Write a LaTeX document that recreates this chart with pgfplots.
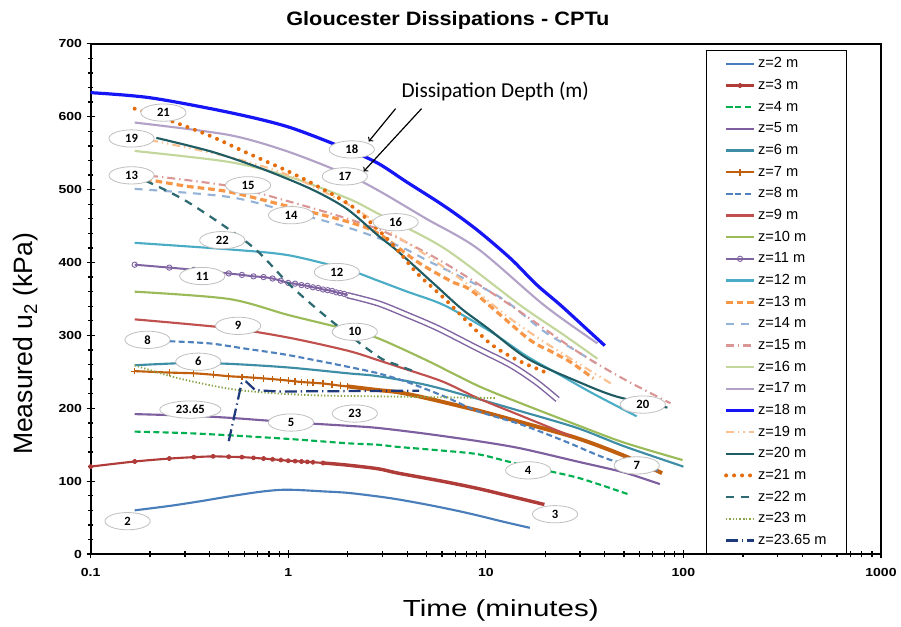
\documentclass[border=0pt]{standalone}
\usepackage{pgfplots}
\pgfplotsset{compat=1.18}
\usepackage{fontspec}
\setmainfont{Liberation Sans}
\newfontfamily\tickfont[FakeStretch=1.2]{Liberation Sans}
\newfontfamily\titlefont[FakeStretch=1.12]{Liberation Sans}
\newfontfamily\xlabfont[FakeStretch=1.27]{Liberation Sans}
\newfontfamily\calib{Carlito}
\usetikzlibrary{shapes.geometric}
\definecolor{c2}{HTML}{4A7EBB}
\definecolor{c3}{HTML}{B03C3A}
\definecolor{c4}{HTML}{00B050}
\definecolor{c5}{HTML}{7D5FA0}
\definecolor{c6}{HTML}{3C8DA5}
\definecolor{c7}{HTML}{C0600F}
\definecolor{c8}{HTML}{4F81BD}
\definecolor{c9}{HTML}{C0504D}
\definecolor{c10}{HTML}{9BBB59}
\definecolor{c11}{HTML}{8064A2}
\definecolor{c12}{HTML}{4BACC6}
\definecolor{c13}{HTML}{F79646}
\definecolor{c14}{HTML}{95B3D7}
\definecolor{c15}{HTML}{D99694}
\definecolor{c16}{HTML}{C3D69B}
\definecolor{c17}{HTML}{B3A2C7}
\definecolor{c18}{HTML}{1515F5}
\definecolor{c19}{HTML}{FAC090}
\definecolor{c20}{HTML}{1F5C63}
\definecolor{c21}{HTML}{E46C0A}
\definecolor{c22}{HTML}{2D6A72}
\definecolor{c23}{HTML}{8AA64A}
\definecolor{c2365}{HTML}{1F3A7A}
\tikzset{lbl/.style={ellipse, draw=black!25, fill=white, line width=0.6pt, minimum width=34pt, minimum height=13pt, inner sep=0pt, font=\calib\bfseries\fontsize{9.5}{10}\selectfont}}
\begin{document}
\begin{tikzpicture}
\begin{axis}[
  scale only axis, width=594.75pt, height=384pt,
  xmode=log, xmin=0.1, xmax=1000, ymin=0, ymax=700,
  xtick={0.1,1,10,100,1000}, xticklabels={0.1,1,10,100,1000},
  ytick={0,100,200,300,400,500,600,700},
  minor y tick num=4,
  xtick pos=bottom, ytick pos=left,
  tick align=center,
  axis line style={line width=1.6pt},
  every tick/.style={black, line width=1pt},
  major tick length=6pt, minor tick length=4pt,
  /pgf/number format/assume math mode=true,
  ticklabel style={font=\tickfont\bfseries\fontsize{8.8}{10}\selectfont},
  xticklabel style={yshift=-4.5pt},
  clip mode=individual,
  every axis plot/.append style={line join=round},
  legend style={at={(rel axis cs:0.778,0.988)}, anchor=north west, draw=black, line width=1pt, fill=white,
    font=\fontsize{11}{12}\selectfont, row sep=3.3pt, inner xsep=13.5pt, inner ysep=3.5pt,
    nodes={inner sep=1.5pt, text height=8pt, text depth=2pt}},
  legend cell align=left,
  legend image code/.code={\draw[mark repeat=2,mark phase=2,#1] plot coordinates {(0pt,0pt)(10.5pt,0pt)(21pt,0pt)};},
]
% z=2
\addplot[c2, line width=1.6pt, smooth] coordinates {(0.167,60)(0.25,66)(0.35,72)(0.5,79)(0.7,85)(0.9,88)(1.1,88)(1.5,86)(2,84)(2.85,79)(3.6,75)(5,68)(7,60)(9.1,53)(12,45)(16.7,36)};
\addlegendentry{z=2 m}
% z=3
\addplot[c3, line width=1.6pt, smooth, mark=*, mark size=1.2pt] coordinates {(0.1,120)(0.167,127)(0.25,131)(0.333,133)(0.417,134)(0.5,133.5)(0.583,133)(0.667,132)(0.75,131)(0.833,130)(0.917,129)(1,128)(1.083,127.5)(1.167,127)(1.25,126.5)(1.333,126)(1.5,125)};
\addlegendentry{z=3 m}
\addplot[c3, line width=2.6pt, smooth, forget plot] coordinates {(1.5,125)(2,122)(2.85,117)(3.6,111)(6,100)(9.1,90)(13,80)(19.8,68)};
% z=4
\addplot[c4, line width=1.6pt, smooth, dash pattern=on 4.5pt off 2.5pt] coordinates {(0.167,168)(0.3,166)(0.5,163)(1,158)(2,152)(2.85,150)(3.6,147)(6,142)(9.1,137)(13.4,126)(20,115)(29,105)(40,93)(54,81)};
\addlegendentry{z=4 m}
% z=5
\addplot[c5, line width=1.6pt, smooth] coordinates {(0.167,192)(0.3,190)(0.5,187)(1,181)(2,176)(2.85,173)(5,165)(9.1,155)(15,145)(29,127)(50,112)(76,96)};
\addlegendentry{z=5 m}
% z=6
\addplot[c6, line width=1.6pt, smooth] coordinates {(0.167,259)(0.3,262)(0.5,261)(1,256)(2,248)(2.85,244)(5,232)(9.1,213)(15,196)(29,173)(50,148)(100,120)};
\addlegendentry{z=6 m}
% z=7
\addplot[c7, line width=1.6pt, smooth, mark=+, mark size=2.5pt, mark options={line width=0.9pt}] coordinates {(0.167,251)(0.25,249)(0.333,248)(0.417,246)(0.5,244)(0.583,243)(0.667,242)(0.75,241)(0.833,240)(0.917,239)(1,238)(1.083,237)(1.167,236)(1.25,235.5)(1.333,235)(1.5,234)(1.667,232.5)(1.833,231)(2,230)};
\addlegendentry{z=7 m}
\addplot[c7, line width=3pt, smooth, forget plot] coordinates {(2,230)(2.85,225)(3.6,222)(5,214)(9.1,197)(15,181)(29,159)(50,135)(78,111)};
% z=8
\addplot[c8, line width=1.6pt, smooth, dash pattern=on 4.5pt off 2.5pt] coordinates {(0.25,292)(0.4,289)(0.6,282)(1,273)(2,257)(2.85,248)(4,236)(6.2,216)(9.1,196)(15,178)(25,155)(43,129)(76,114)};
\addlegendentry{z=8 m}
% z=9
\addplot[c9, line width=1.6pt, smooth] coordinates {(0.167,322)(0.5,310)(1,297)(2,279)(2.85,266)(3.6,257)(6,237)(9.1,214)(15,190)(26.9,162)};
\addlegendentry{z=9 m}
% z=10
\addplot[c10, line width=1.6pt, smooth] coordinates {(0.167,360)(0.5,350)(1,328)(2,308)(2.85,296)(5,266)(9.1,231)(15,207)(29,177)(50,153)(99,129)};
\addlegendentry{z=10 m}
% z=11
\addplot[c11, line width=1.5pt, smooth, mark=o, mark size=2pt, mark options={fill=white, line width=0.7pt}] coordinates {(0.167,397)(0.25,393)(0.333,390)(0.417,387)(0.5,385)(0.583,383)(0.667,381)(0.75,380)(0.833,378)(0.917,375)(1,372)(1.083,371)(1.167,369)(1.25,368)(1.333,366)(1.417,365)(1.5,363)(1.583,362)(1.667,361)(1.75,359)(1.833,358)(1.917,357)(2,355)};
\addlegendentry{z=11 m}
\addplot[c11, line width=1.1pt, double=white, double distance=2.6pt, smooth, forget plot] coordinates {(2,355)(2.85,344)(4,328)(5.7,310)(9.1,282)(13.4,259)(18,236)(23.1,212)};
% z=12
\addplot[c12, line width=1.6pt, smooth] coordinates {(0.167,427)(0.5,418)(1,410)(2,390)(2.85,375)(4,360)(6.2,341)(10.6,305)(16,272)(24,245)(35,220)(58,189)};
\addlegendentry{z=12 m}
% z=13
\addplot[c13, line width=2.4pt, smooth, dash pattern=on 5pt off 3pt] coordinates {(0.167,517)(0.3,505)(0.5,497)(1,477)(2,456)(2.85,440)(4.5,401)(6.7,374)(8.6,360)(16.3,296)(21.4,278)(27,263)(35,241)};
\addlegendentry{z=13 m}
% z=14
\addplot[c14, line width=1.6pt, smooth, dash pattern=on 6pt off 5pt] coordinates {(0.167,501)(0.5,490)(1,470)(2,448)(3.6,423)(5.3,400)(10.2,362)(13.4,342)(19.8,305)(29,278)(36,262)};
\addlegendentry{z=14 m}
% z=15
\addplot[c15, line width=1.6pt, smooth, dash pattern=on 6pt off 3pt on 1pt off 3pt] coordinates {(0.2,519)(0.5,505)(1,484)(2,460)(3.2,440)(6.2,399)(13.4,341)(29,278)(50,240)(86,207)};
\addlegendentry{z=15 m}
% z=16
\addplot[c16, line width=1.6pt, smooth] coordinates {(0.167,553)(0.5,538)(1,518)(2,488)(2.85,467)(6.2,419)(15,341)(25,300)(36.7,268)};
\addlegendentry{z=16 m}
% z=17
\addplot[c17, line width=1.6pt, smooth] coordinates {(0.167,592)(0.5,575)(1,552)(2,520)(2.85,499)(5,460)(9.1,419)(19.8,341)(36.7,289)};
\addlegendentry{z=17 m}
% z=18
\addplot[c18, line width=2.4pt, smooth] coordinates {(0.1,633)(0.2,626)(0.5,606)(1,586)(2,555)(2.85,536)(4,510)(6.2,477)(9,445)(13.4,405)(18,370)(24,341)(32,310)(40,286)};
\addlegendentry{z=18 m}
% z=19
\addplot[c19, line width=1.6pt, smooth, dash pattern=on 6pt off 3pt on 1pt off 3pt on 1pt off 3pt] coordinates {(0.2,568)(0.5,545)(1,520)(2,480)(3.1,446)(5,410)(8.1,370)(13,325)(20,290)(30,260)(43,234)};
\addlegendentry{z=19 m}
% z=20
\addplot[c20, line width=1.6pt, smooth] coordinates {(0.215,571)(0.41,552)(0.73,529)(1.3,501)(1.97,474)(2.85,437)(3.6,415)(5.5,370)(7.5,337)(10.2,310)(16.3,268)(29,237)(46,216)(83,201)};
\addlegendentry{z=20 m}
% z=21
\addplot[c21, line width=3pt, smooth, line cap=round, dash pattern=on 0pt off 6pt] coordinates {(0.167,611)(0.25,595)(0.4,574)(0.6,552)(1,525)(1.42,504)(2.08,478)(2.85,445)(3.5,420)(4.5,385)(6.2,350)(10.2,292)(14,268)(19.8,250)};
\addlegendentry{z=21 m}
% z=22
\addplot[c22, line width=1.7pt, smooth, dash pattern=on 6pt off 5pt] coordinates {(0.19,512)(0.31,483)(0.65,423)(1.03,368)(1.65,320)(2.85,271)(3.6,259)(4.4,250)};
\addlegendentry{z=22 m}
% z=23
\addplot[c23, line width=1.4pt, smooth, dash pattern=on 1pt off 1.5pt] coordinates {(0.167,259)(0.28,241)(0.56,225)(1.3,218)(3.6,216)(11.1,214)};
\addlegendentry{z=23 m}
% z=23.65
\addplot[c2365, line width=1.7pt, dash pattern=on 9pt off 3pt on 1pt off 3pt] coordinates {(0.5,155)(0.58,234)(0.61,237)(0.68,225)(0.89,223)(3.6,224)(4.6,224)};
\addlegendentry{z=23.65 m}
% depth labels
\node[lbl] at (rel axis cs:0.0921,0.8652) {21};
\node[lbl] at (rel axis cs:0.0517,0.8145) {19};
\node[lbl] at (rel axis cs:0.0517,0.7422) {13};
\node[lbl] at (rel axis cs:0.1992,0.7227) {15};
\node[lbl] at (rel axis cs:0.2535,0.6641) {14};
\node[lbl] at (rel axis cs:0.1665,0.6152) {22};
\node[lbl] at (rel axis cs:0.3304,0.7930) {18};
\node[lbl] at (rel axis cs:0.3216,0.7402) {17};
\node[lbl] at (rel axis cs:0.3859,0.6504) {16};
\node[lbl] at (rel axis cs:0.3115,0.5527) {12};
\node[lbl] at (rel axis cs:0.1412,0.5449) {11};
\node[lbl] at (rel axis cs:0.1866,0.4473) {9};
\node[lbl] at (rel axis cs:0.3342,0.4355) {10};
\node[lbl] at (rel axis cs:0.0719,0.4199) {8};
\node[lbl] at (rel axis cs:0.1362,0.3770) {6};
\node[lbl, minimum width=46pt] at (rel axis cs:0.1261,0.2832) {23.65};
\node[lbl] at (rel axis cs:0.2535,0.2578) {5};
\node[lbl] at (rel axis cs:0.3342,0.2754) {23};
\node[lbl] at (rel axis cs:0.0467,0.0645) {2};
\node[lbl] at (rel axis cs:0.6986,0.2930) {20};
\node[lbl] at (rel axis cs:0.6910,0.1738) {7};
\node[lbl] at (rel axis cs:0.5536,0.1641) {4};
\node[lbl] at (rel axis cs:0.5876,0.0781) {3};
% annotation
\node[font=\calib\fontsize{16}{18}\selectfont, fill=white, inner sep=1pt] at (rel axis cs:0.5120,0.9063) {Dissipation Depth (m)};
\draw[->, line width=0.9pt] (rel axis cs:0.3859,0.8730) -- (rel axis cs:0.3518,0.8086);
\draw[->, line width=0.9pt] (rel axis cs:0.4187,0.8730) -- (rel axis cs:0.3455,0.7500);
% titles
\node[anchor=base, font=\titlefont\bfseries\fontsize{14.6}{16}\selectfont] at (rel axis cs:0.452,1.0352) {Gloucester Dissipations - CPTu};
\node[anchor=base, font=\xlabfont\fontsize{17.5}{20}\selectfont] at (rel axis cs:0.519,-0.123) {Time (minutes)};
\node[anchor=base, rotate=90, font=\fontsize{20}{22}\selectfont] at (rel axis cs:-0.0731,0.412) {Measured u$_{\mathrm{2}}$ (kPa)};
\path (rel axis cs:-0.11475,-0.1406) rectangle (rel axis cs:1.02144,1.0859);
\end{axis}
\end{tikzpicture}
\end{document}
